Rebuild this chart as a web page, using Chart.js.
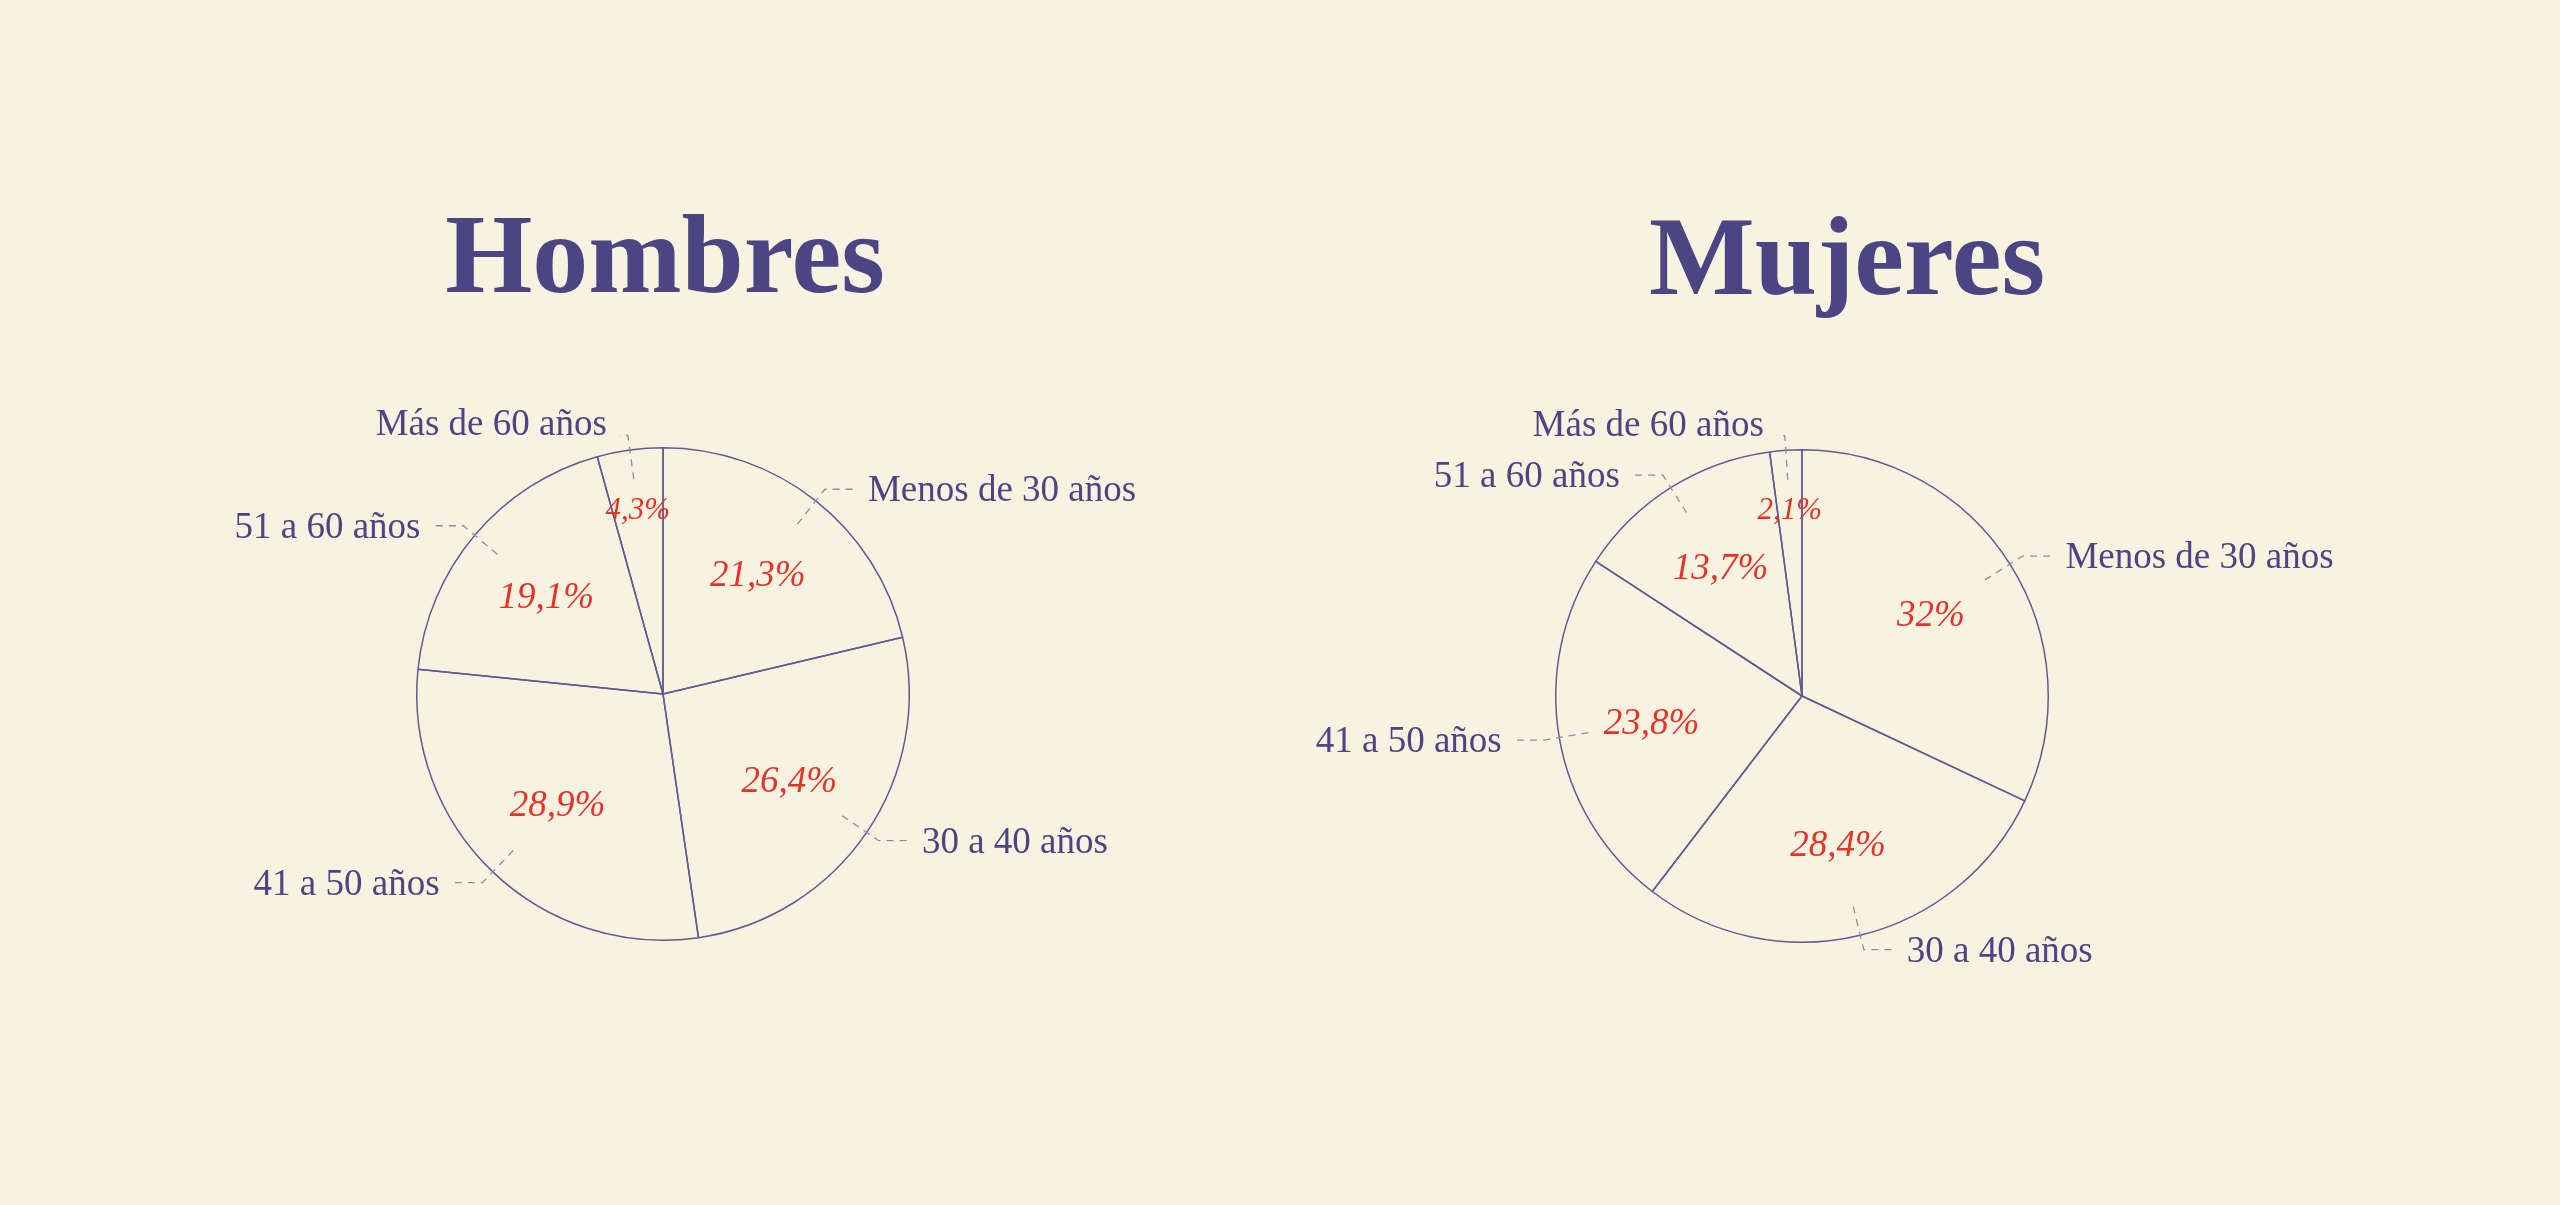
<!DOCTYPE html>
<html><head><meta charset="utf-8">
<script src="https://cdn.jsdelivr.net/npm/chart.js@4.4.1/dist/chart.umd.min.js"></script>
<style>
html,body{margin:0;padding:0;background:#f8f3e0;width:2560px;height:1205px;overflow:hidden;}
.title{position:absolute;font-family:"Liberation Serif",serif;font-weight:bold;font-size:112px;line-height:1;color:#4b4584;transform:translateX(-50%);white-space:nowrap;}
.box{position:absolute;width:1200px;height:1000px;}
</style></head><body>
<div class="title" id="t1" style="left:665px;top:198px"></div>
<div class="title" id="t2" style="left:1847px;top:200px"></div>
<div class="box" style="left:63px;top:194px"><canvas id="c1"></canvas></div>
<div class="box" style="left:1202px;top:196px"><canvas id="c2"></canvas></div>
<script>
const categories = ['Menos de 30 años', '30 a 40 años', '41 a 50 años', '51 a 60 años', 'Más de 60 años'];
const hombresValues = [21.3, 26.4, 28.9, 19.1, 4.3];
const mujeresValues = [32, 28.4, 23.8, 13.7, 2.1];
const chartTitles = ['Hombres', 'Mujeres'];

document.getElementById('t1').textContent = chartTitles[0];
document.getElementById('t2').textContent = chartTitles[1];

const fmt = v => v.toLocaleString('es-ES') + '%';

const labelPlugin = {
  id: 'pieLabels',
  afterDatasetsDraw(chart) {
    const ctx = chart.ctx;
    const meta = chart.getDatasetMeta(0);
    const vals = chart.data.datasets[0].data;
    meta.data.forEach((arc, i) => {
      const p = arc.getProps(['x', 'y', 'startAngle', 'endAngle', 'outerRadius'], true);
      const x = p.x, y = p.y, R = p.outerRadius;
      const mid = (p.startAngle + p.endAngle) / 2;
      const c = Math.cos(mid), s = Math.sin(mid);
      const small = vals[i] < 5;
      ctx.save();
      // percentage
      const pr = small ? 0.76 * R : 0.62 * R;
      ctx.fillStyle = '#e5332a';
      ctx.font = 'italic ' + (small ? 31 : 37) + 'px "Liberation Serif"';
      ctx.textAlign = 'center';
      ctx.textBaseline = 'alphabetic';
      ctx.fillText(fmt(vals[i]), x + c * pr, y + s * pr + (small ? 10 : 12));
      // leader line
      const r1 = 0.88 * R, r2 = 1.06 * R;
      const ex = x + c * r2, ey = y + s * r2;
      const dir = c >= 0 ? 1 : -1;
      const hl = small ? 8 : 30;
      ctx.strokeStyle = '#8e8aa8';
      ctx.lineWidth = 1.3;
      ctx.setLineDash([7, 6]);
      ctx.beginPath();
      ctx.moveTo(x + c * r1, y + s * r1);
      ctx.lineTo(ex, ey);
      ctx.lineTo(ex + dir * hl, ey);
      ctx.stroke();
      ctx.setLineDash([]);
      // category label
      ctx.fillStyle = '#4b4584';
      ctx.font = '37px "Liberation Serif"';
      ctx.textAlign = dir > 0 ? 'left' : 'right';
      ctx.fillText(chart.data.labels[i], ex + dir * (hl + 13), ey + (small ? 0 : 12));
      ctx.restore();
    });
  }
};

function makePie(id, values) {
  return new Chart(document.getElementById(id), {
    type: 'pie',
    data: {
      labels: categories,
      datasets: [{
        data: values,
        backgroundColor: 'rgba(0,0,0,0)',
        borderColor: '#5f5b94',
        borderWidth: 1.5
      }]
    },
    options: {
      responsive: true,
      maintainAspectRatio: false,
      animation: false,
      events: [],
      layout: { padding: { left: 353, right: 353, top: 253, bottom: 253 } },
      plugins: { legend: { display: false }, tooltip: { enabled: false } }
    },
    plugins: [labelPlugin]
  });
}

makePie('c1', hombresValues);
makePie('c2', mujeresValues);
</script>
</body></html>
